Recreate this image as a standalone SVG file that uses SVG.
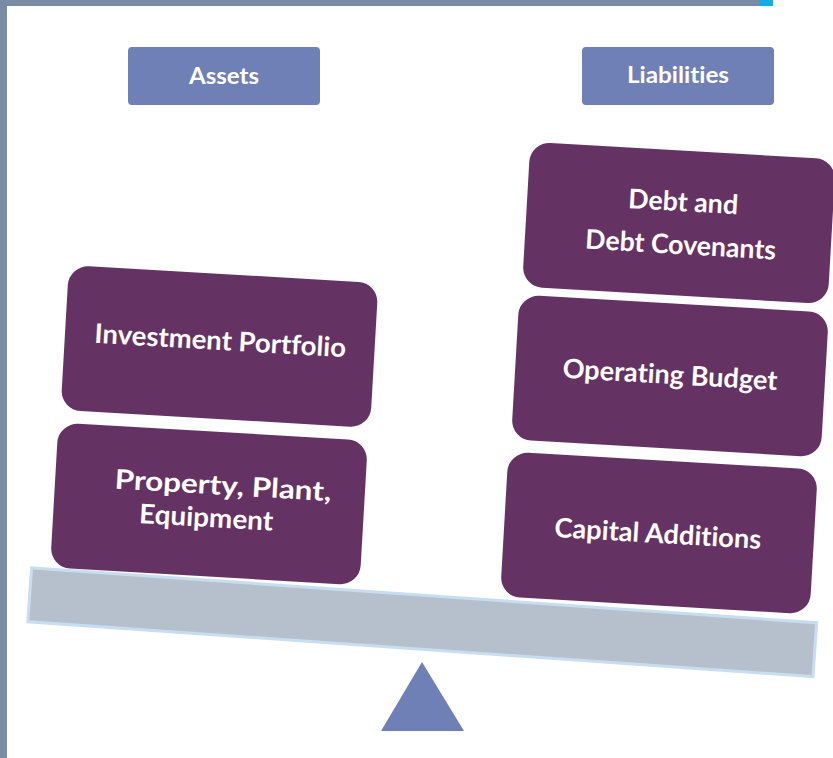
<svg xmlns="http://www.w3.org/2000/svg" width="833" height="758" viewBox="0 0 833 758">
<style>
.hdr{fill:#6f80b6}
.node{fill:#653363}
.t{font-family:Lato,"Open Sans","Liberation Sans",sans-serif;font-weight:bold;fill:#ffffff;text-anchor:middle;font-variant-ligatures:none;font-feature-settings:"liga" 0}
.h{font-size:22px}
.n{font-size:27px}
</style>
<rect x="0" y="0" width="833" height="758" fill="#ffffff"/>
<g id="frame">
<rect x="0" y="0" width="760" height="6" fill="#7a8ca3"/>
<rect x="759" y="0" width="14" height="6" fill="#1aa9e0"/>
<rect x="0" y="0" width="7" height="758" fill="#7a8ca3"/>
</g>
<g id="assets-header">
<rect class="hdr" x="128" y="47" width="192" height="58" rx="4"/>
<text class="t h" x="224" y="84" textLength="70" lengthAdjust="spacingAndGlyphs">Assets</text>
</g>
<g id="liabilities-header">
<rect class="hdr" x="582" y="47" width="192" height="58" rx="4"/>
<text class="t h" x="678" y="83" textLength="102" lengthAdjust="spacingAndGlyphs">Liabilities</text>
</g>
<g id="beam">
<rect x="28.75" y="595.25" width="787" height="54" transform="rotate(4 422.25 622.25)" fill="#b6c0cc" stroke="#c9ddf0" stroke-width="3"/>
</g>
<g id="fulcrum">
<polygon points="422,662 464,731 381,731" fill="#6f80b6"/>
</g>
<g id="investment-portfolio" transform="rotate(3.3 219.5 346.5)">
<rect class="node" x="64.5" y="274" width="310" height="145" rx="20"/>
<text class="t n" x="220" y="350" textLength="252" lengthAdjust="spacingAndGlyphs">Investment Portfolio</text>
</g>
<g id="property-plant-equipment" transform="rotate(3.3 209 504)">
<rect class="node" x="54" y="431.5" width="310" height="145" rx="20"/>
<text class="t n" x="222" y="494" textLength="217" lengthAdjust="spacingAndGlyphs">Property, Plant,</text>
<text class="t n" x="207" y="527" textLength="134" lengthAdjust="spacingAndGlyphs">Equipment</text>
</g>
<g id="debt-covenants" transform="rotate(3.3 679 223)">
<rect class="node" x="526" y="150.5" width="306" height="145" rx="20"/>
<text class="t n" x="682" y="211" textLength="110" lengthAdjust="spacingAndGlyphs">Debt and</text>
<text class="t n" x="682" y="254" textLength="191" lengthAdjust="spacingAndGlyphs">Debt Covenants</text>
</g>
<g id="operating-budget" transform="rotate(3.3 670 376)">
<rect class="node" x="515" y="303.5" width="310" height="145" rx="20"/>
<text class="t n" x="670" y="384" textLength="215" lengthAdjust="spacingAndGlyphs">Operating Budget</text>
</g>
<g id="capital-additions" transform="rotate(3.3 659 533)">
<rect class="node" x="504" y="460.5" width="310" height="145" rx="20"/>
<text class="t n" x="658" y="543" textLength="207" lengthAdjust="spacingAndGlyphs">Capital Additions</text>
</g>
<g id="connectors"/>
</svg>
